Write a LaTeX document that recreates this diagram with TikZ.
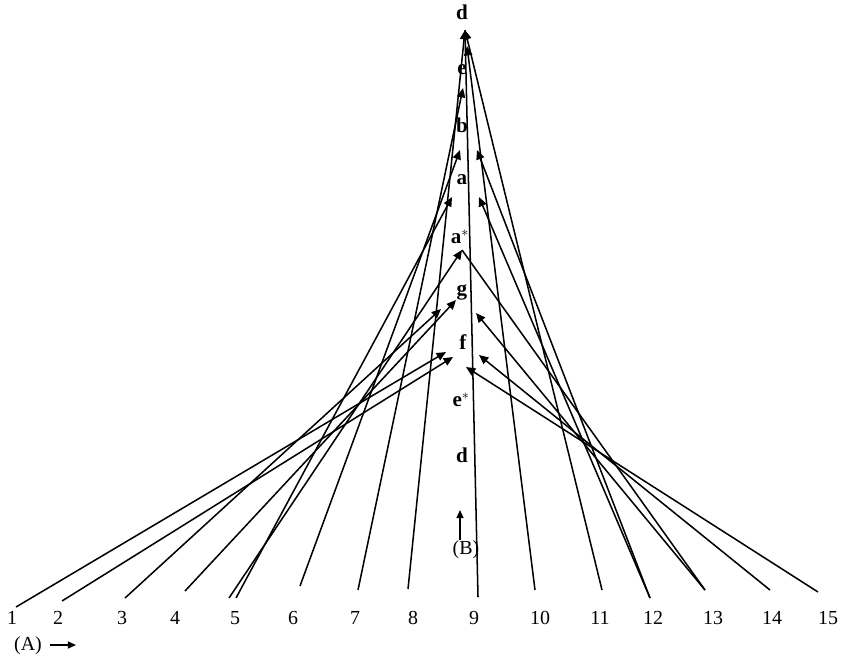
\documentclass[tikz,border=0pt]{standalone}
\usepackage{fontspec}
\setmainfont{Liberation Serif}
\usetikzlibrary{arrows.meta}
\begin{document}
\begin{tikzpicture}[x=0.03cm,y=-0.03cm,
  ln/.style={line width=1.3pt,black},
  la/.style={ln,-{Triangle[length=8pt,width=7pt]}},
  num/.style={font=\fontsize{17}{19}\selectfont,inner sep=0pt},
  lab/.style={font=\fontsize{18}{20}\selectfont\bfseries,inner sep=0pt}]
\useasboundingbox (0,0) rectangle (853,664);
% axis labels
\node[lab] (Ld1) at (462,12) {d};
\node[lab] (Le) at (462,70) {e};
\node[lab] (Lb) at (462,125) {b};
\node[lab] (La) at (462,180) {a};
\node[lab] (Las) at (460,237) {a$^{*}$};
\node[lab] (Lg) at (462,292) {g};
\node[lab] (Lf) at (463,342) {f};
\node[lab] (Les) at (461,400) {e$^{*}$};
\node[lab] (Ld2) at (462,455) {d};
\node[num] (LB) at (466,550) {(B)};
\coordinate (up1) at (460,540);
\coordinate (up2) at (460,510);
\draw[ln,-{Triangle[length=7pt,width=6pt]}] (up1) -- (up2);
% numbers
\foreach \n/\x in {1/12,2/58,3/122,4/175,5/235,6/293,7/355,8/413,9/474,10/540,11/600,12/653,13/713,14/772,15/828}
  \node[num] (n\n) at (\x,618) {\n};
\node[num] (LA) at (28,646) {(A)};
\coordinate (aA1) at (50,645);
\coordinate (aA2) at (76,645);
\draw[ln,-{Triangle[length=7pt,width=6pt]}] (aA1) -- (aA2);
% line starts
\coordinate (s1) at (16,607);
\coordinate (s2) at (62,601);
\coordinate (s3) at (125,598);
\coordinate (s4) at (185,591);
\coordinate (s5a) at (229,598);
\coordinate (s5b) at (236,598);
\coordinate (s6) at (300,586);
\coordinate (s7) at (358,590);
\coordinate (s8) at (408,589);
\coordinate (s9) at (478,597);
\coordinate (s10) at (535,590);
\coordinate (s11) at (602,590);
\coordinate (s12) at (650,598);
\coordinate (s13) at (705,590);
\coordinate (s14) at (770,590);
\coordinate (s15) at (818,592);
% targets
\coordinate (tD) at (465,30);
\coordinate (tD2) at (467,46);
\coordinate (tE) at (463,88);
\coordinate (tBl) at (460,150);
\coordinate (tBr) at (477,150);
\coordinate (tAl) at (452,197);
\coordinate (tAr) at (479,197);
\coordinate (tAs) at (462,250);
\coordinate (tGl) at (456,300);
\coordinate (tGl2) at (441,309);
\coordinate (tGr) at (476,313);
\coordinate (tFl) at (446,352);
\coordinate (tFl2) at (453,357);
\coordinate (tFr) at (479,355);
\coordinate (tEs) at (466,367);
% left lines
\draw[la] (s1) -- (tFl);
\draw[la] (s2) -- (tFl2);
\draw[la] (s3) -- (tGl2);
\draw[la] (s4) -- (tGl);
\draw[la] (s5a) -- (tAs);
\draw[la] (s5b) -- (tAl);
\draw[la] (s6) -- (tBl);
\draw[la] (s7) -- (tE);
\draw[la] (s8) -- (tD);
% right lines
\draw[ln] (s9) -- (tD);
\draw[la] (s10) -- (tD2);
\draw[la] (s11) -- (tD);
\draw[la] (s12) -- (tBr);
\draw[la] (s12) -- (tAr);
\draw[ln] (s13) -- (tAs);
\draw[la] (s13) -- (tGr);
\draw[la] (s14) -- (tFr);
\draw[la] (s15) -- (tEs);
\end{tikzpicture}
\end{document}
